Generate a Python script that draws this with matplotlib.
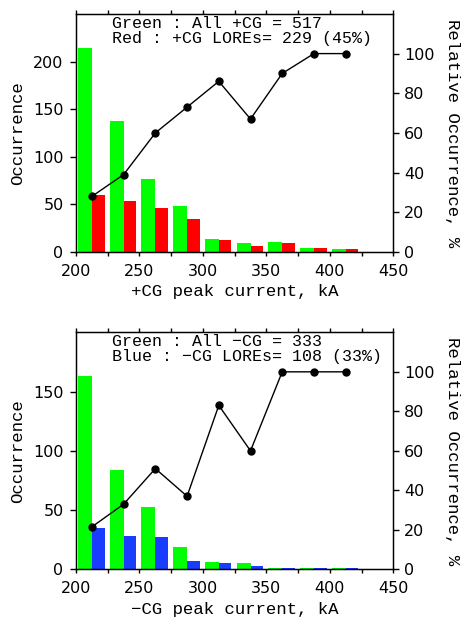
import matplotlib
matplotlib.use("Agg")
import matplotlib.pyplot as plt
import numpy as np

# bin starts (kA), 25 kA bins
bins = [200, 225, 250, 275, 300, 325, 350, 375, 400]

# +CG
pos_all = [214, 138, 77, 48, 14, 9, 10, 4, 3]
pos_lores = [60, 54, 46, 35, 12, 6, 9, 4, 3]
pos_rel = [28, 39, 60, 73, 86, 67, 90, 100, 100]

# -CG
neg_all = [163, 84, 53, 19, 6, 5, 1, 1, 1]
neg_lores = [35, 28, 27, 7, 5, 3, 1, 1, 1]
neg_rel = [21.5, 33, 51, 37, 83, 60, 100, 100, 100]

mono = "Liberation Mono"
sans = "DejaVu Sans"

fig = plt.figure(figsize=(4.61, 6.22), dpi=100)


def panel(rect, all_v, lores_v, rel_v, color, ymax, yticks, line1, line2, xlab, ty):
    ax = fig.add_axes(rect)
    x = np.array(bins)
    ax.bar(x + 1.5, all_v, width=11, align="edge", color="#00ff00", lw=0)
    ax.bar(x + 12.5, lores_v, width=10, align="edge", color=color, lw=0)
    ax.set_xlim(200, 450)
    ax.set_ylim(0, ymax)
    ax.set_xticks(np.arange(200, 451, 25))
    ax.set_xticklabels([str(v) if v % 50 == 0 else "" for v in range(200, 451, 25)])
    ax.set_yticks(yticks)
    ax.tick_params(axis="x", direction="out", length=3, width=1, top=True,
                   labelsize=11.5, pad=5.5)
    ax.tick_params(axis="y", direction="out", length=4.5, width=1,
                   labelsize=11.5, pad=4.5)
    for lab in ax.get_xticklabels() + ax.get_yticklabels():
        lab.set_family(sans)
    for s in ax.spines.values():
        s.set_linewidth(1)
    ax.set_xlabel(xlab, family=mono, fontsize=12.5, labelpad=4)
    ax.set_ylabel("Occurrence", family=mono, fontsize=12.5, labelpad=6)

    ax2 = ax.twinx()
    ax2.plot(x + 12.5, rel_v, color="black", lw=1, marker="o", ms=5)
    ax2.set_ylim(0, 120)
    ax2.set_yticks([0, 20, 40, 60, 80, 100])
    ax2.tick_params(axis="y", direction="out", length=4.5, width=1,
                    labelsize=11.5, pad=3.5)
    for lab in ax2.get_yticklabels():
        lab.set_family(sans)
    ax2.set_ylabel("Relative Occurrence, %", family=mono, fontsize=12.5,
                   rotation=270, labelpad=18)

    ax.text(0.113, ty[0], line1, transform=ax.transAxes, va="top", ha="left",
            family=mono, fontsize=12)
    ax.text(0.113, ty[1], line2, transform=ax.transAxes, va="top", ha="left",
            family=mono, fontsize=12)


panel([0.165, 0.595, 0.688, 0.3826], pos_all, pos_lores, pos_rel, "#ff0000",
      250, [0, 50, 100, 150, 200],
      "Green : All +CG = 517", "Red : +CG LOREs= 229 (45%)",
      "+CG peak current, kA", (0.99, 0.928))

panel([0.165, 0.0847, 0.688, 0.381], neg_all, neg_lores, neg_rel, "#1a3cff",
      200, [0, 50, 100, 150],
      "Green : All \u2212CG = 333", "Blue : \u2212CG LOREs= 108 (33%)",
      "\u2212CG peak current, kA", (0.995, 0.93))

fig.savefig("out.png", dpi=100)
